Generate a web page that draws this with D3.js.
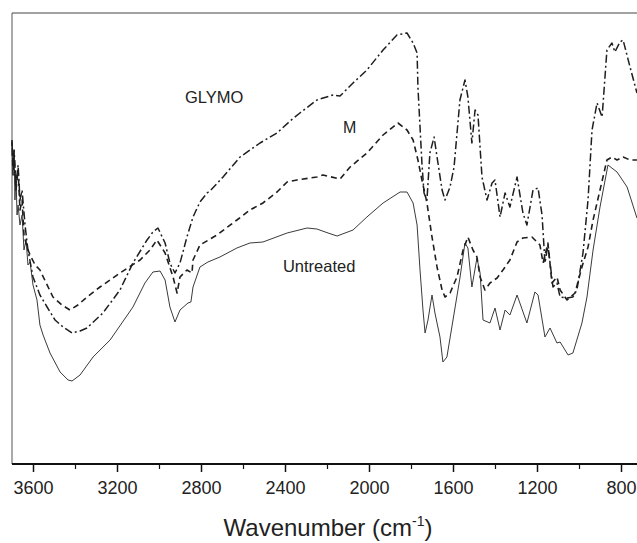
<!DOCTYPE html>
<html>
<head>
<meta charset="utf-8">
<script src="https://cdn.jsdelivr.net/npm/d3@7"></script>
<style>
  body { margin: 0; background: #fff; }
  svg { display: block; font-family: "Liberation Sans", Arial, sans-serif; }
</style>
</head>
<body>
<div id="chart"></div>
<script>
// FTIR spectra, [wavenumber, transmittance (a.u.)]
const untreated = [
    [3700, 31.6], [3695, 29.4], [3690, 31.4], [3686, 26.4], [3681, 28.9], [3676, 24.9], [3671, 25.9],
    [3662, 23.9], [3652, 24.9], [3643, 21.4], [3633, 22.4], [3624, 19.9], [3614, 20.2], [3600, 17.9],
    [3581, 16.4], [3567, 13.9], [3552, 12.9], [3519, 11.1], [3471, 9.2], [3433, 8.4], [3414, 8.3],
    [3376, 8.9], [3314, 10.7], [3233, 12.4], [3124, 15.7], [3067, 18.1], [3029, 19.2], [2995, 19.3],
    [2971, 18.4], [2948, 15.7], [2924, 14.2], [2900, 15.4], [2862, 16.1], [2848, 16.2], [2838, 17.7],
    [2805, 19.7], [2767, 20.2], [2710, 20.7], [2629, 21.6], [2567, 22.1], [2505, 22.2], [2390, 23.1],
    [2295, 23.6], [2248, 23.5], [2195, 23.1], [2152, 22.8], [2076, 23.4], [2010, 24.7], [1933, 26.1],
    [1852, 27.2], [1819, 27.2], [1790, 26.1], [1771, 23.9], [1757, 19.4], [1743, 15.4], [1733, 13.1],
    [1719, 14.4], [1710, 15.6], [1700, 16.9], [1686, 15.1], [1662, 12.7], [1648, 10.2], [1629, 10.7],
    [1600, 14.4], [1567, 18.6], [1543, 22.1], [1529, 21.6], [1510, 17.7], [1486, 20.6], [1471, 19.1],
    [1457, 14.4], [1424, 14.1], [1400, 15.6], [1376, 13.4], [1352, 15.4], [1329, 14.9], [1295, 16.9],
    [1248, 14.1], [1210, 17.2], [1195, 16.9], [1162, 12.7], [1138, 13.6], [1105, 12.1], [1090, 12.2],
    [1052, 10.9], [1029, 11.1], [986, 14.1], [962, 16.7], [933, 21.4], [900, 25.7], [862, 29.9],
    [819, 29.2], [771, 27.7], [724, 24.6]
];

const treatedM = [
    [3700, 32.4], [3695, 28.9], [3690, 30.9], [3681, 27.4], [3671, 29.4], [3662, 25.4], [3652, 26.4],
    [3643, 22.9], [3629, 21.7], [3614, 20.9], [3590, 19.9], [3567, 19.4], [3505, 16.7], [3462, 15.9],
    [3424, 15.4], [3386, 15.9], [3343, 16.7], [3281, 17.7], [3186, 19.1], [3090, 20.4], [3043, 21.4],
    [3010, 22.4], [2971, 21.1], [2933, 18.7], [2914, 17.1], [2900, 18.7], [2867, 19.4], [2843, 19.1],
    [2838, 20.4], [2805, 21.9], [2724, 22.9], [2629, 24.4], [2567, 25.4], [2505, 26.1], [2438, 27.2],
    [2390, 28.2], [2343, 28.4], [2248, 28.7], [2219, 28.9], [2138, 28.5], [2090, 29.7], [2010, 31.1],
    [1933, 32.9], [1862, 34.1], [1819, 33.4], [1790, 32.4], [1767, 30.4], [1748, 28.4], [1724, 26.1],
    [1700, 22.7], [1676, 19.7], [1652, 17.4], [1638, 16.7], [1614, 17.1], [1581, 18.7], [1552, 21.4],
    [1529, 22.7], [1505, 21.4], [1486, 20.7], [1471, 18.7], [1448, 17.4], [1424, 18.1], [1390, 18.6],
    [1362, 19.4], [1329, 20.4], [1295, 22.2], [1267, 22.6], [1224, 22.7], [1186, 21.9], [1171, 20.1],
    [1148, 22.1], [1129, 18.1], [1105, 18.7], [1090, 17.4], [1057, 16.4], [1019, 17.1], [986, 19.7],
    [957, 21.7], [933, 24.4], [900, 27.4], [867, 30.4], [843, 30.7], [819, 30.4], [790, 30.7],
    [757, 30.4], [724, 30.4]
];

const glymo = [
    [3700, 32.2], [3695, 29.9], [3690, 31.4], [3681, 27.9], [3671, 29.9], [3662, 26.4], [3652, 27.4],
    [3638, 23.9], [3624, 21.4], [3600, 18.7], [3567, 16.9], [3533, 15.7], [3495, 14.4], [3457, 13.7],
    [3414, 13.1], [3376, 13.3], [3343, 13.6], [3267, 15.1], [3186, 17.4], [3124, 20.1], [3057, 22.4],
    [3029, 23.2], [3005, 23.6], [2971, 22.1], [2948, 20.1], [2924, 19.1], [2900, 20.1], [2867, 22.7],
    [2838, 24.7], [2805, 26.2], [2771, 27.1], [2757, 27.3], [2695, 28.7], [2614, 30.7], [2519, 32.1],
    [2438, 33.1], [2376, 34.3], [2329, 35.1], [2248, 36.4], [2171, 36.9], [2138, 36.8], [2076, 38.1],
    [2010, 39.4], [1933, 41.4], [1867, 42.9], [1819, 43.1], [1790, 42.1], [1771, 41.1], [1767, 37.7],
    [1757, 33.7], [1748, 30.1], [1738, 27.1], [1724, 26.4], [1710, 31.1], [1690, 32.7], [1676, 30.7],
    [1652, 27.4], [1638, 26.4], [1614, 27.7], [1595, 29.7], [1567, 36.4], [1543, 38.4], [1529, 36.7],
    [1510, 32.1], [1495, 35.4], [1481, 34.9], [1462, 28.7], [1438, 26.4], [1414, 28.1], [1400, 28.4],
    [1376, 24.7], [1352, 27.1], [1329, 25.7], [1295, 28.7], [1267, 25.1], [1248, 23.9], [1219, 27.4],
    [1195, 27.6], [1176, 24.9], [1162, 20.1], [1148, 21.9], [1124, 17.7], [1105, 18.1], [1090, 16.7],
    [1057, 16.6], [1029, 16.7], [1010, 17.4], [981, 21.1], [957, 26.4], [938, 33.4], [914, 36.1],
    [890, 34.7], [867, 41.4], [843, 42.1], [829, 41.2], [805, 42.2], [790, 42.4], [757, 39.7],
    [724, 37.1]
];

const majorTicks = [3600, 3200, 2800, 2400, 2000, 1600, 1200, 800];
const minorTicks = [3400, 3000, 2600, 2200, 1800, 1400, 1000];

const width = 637, height = 543;
const margin = {top: 13, left: 12, bottom: 79};

const svg = d3.select("#chart").append("svg")
    .attr("width", width)
    .attr("height", height);

svg.append("rect").attr("width", width).attr("height", height).attr("fill", "#fff");

const x = d3.scaleLinear().domain([3700, 700]).range([margin.left, margin.left + 630]);
const y = d3.scaleLinear().domain([0, 45.1]).range([height - margin.bottom, margin.top]);

const series = [
    {name: "Untreated", data: untreated, dash: null, stroke: "#3a3a3a", w: 1, label: [2410, 19.2]},
    {name: "M", data: treatedM, dash: "6,4", stroke: "#1e1e1e", w: 1.6, label: [2124, 33.1]},
    {name: "GLYMO", data: glymo, dash: "8,3,2,3", stroke: "#1e1e1e", w: 1.5, label: [2876, 36.1]}
];

const line = d3.line()
    .x(d => x(d[0]))
    .y(d => y(d[1]));

// frame: top and left only (the right side is cut off)
svg.append("line")
    .attr("x1", margin.left).attr("x2", width)
    .attr("y1", margin.top).attr("y2", margin.top)
    .attr("stroke", "#444").attr("stroke-width", 1);
svg.append("line")
    .attr("x1", margin.left).attr("x2", margin.left)
    .attr("y1", margin.top).attr("y2", height - margin.bottom)
    .attr("stroke", "#555").attr("stroke-width", 1);

series.forEach(s => {
    svg.append("path")
        .datum(s.data)
        .attr("fill", "none")
        .attr("stroke", s.stroke)
        .attr("stroke-width", s.w)
        .attr("stroke-dasharray", s.dash)
        .attr("stroke-linejoin", "round")
        .attr("d", line);

    svg.append("text")
        .attr("x", x(s.label[0]))
        .attr("y", y(s.label[1]))
        .attr("font-size", s.name === "M" ? 16 : 16.5)
        .attr("fill", "#222")
        .text(s.name);
});

// bottom axis
const xAxis = svg.append("g")
    .attr("transform", `translate(0,${height - margin.bottom})`)
    .call(d3.axisBottom(x).tickValues(majorTicks).tickFormat(d3.format("d"))
        .tickSize(8).tickPadding(9).tickSizeOuter(0));
xAxis.select(".domain").attr("stroke", "#111").attr("stroke-width", 2)
    .attr("d", `M${margin.left},0H${width}`);
xAxis.selectAll(".tick line").attr("stroke", "#111").attr("stroke-width", 1.5);
xAxis.selectAll(".tick text")
    .attr("font-size", 18)
    .attr("font-family", "Liberation Sans, Arial, sans-serif")
    .attr("fill", "#222");

svg.append("g")
    .attr("transform", `translate(0,${height - margin.bottom})`)
    .call(d3.axisBottom(x).tickValues(minorTicks).tickSize(5).tickFormat("").tickSizeOuter(0))
    .call(g => g.select(".domain").remove())
    .selectAll(".tick line").attr("stroke", "#111").attr("stroke-width", 1.2);

// axis title
const title = svg.append("text")
    .attr("x", 328)
    .attr("y", 536)
    .attr("text-anchor", "middle")
    .attr("font-size", 24)
    .attr("fill", "#222");
title.append("tspan").text("Wavenumber (cm");
title.append("tspan").attr("font-size", 14).attr("dy", -10).text("-1");
title.append("tspan").attr("dy", 10).text(")");
</script>
</body>
</html>
